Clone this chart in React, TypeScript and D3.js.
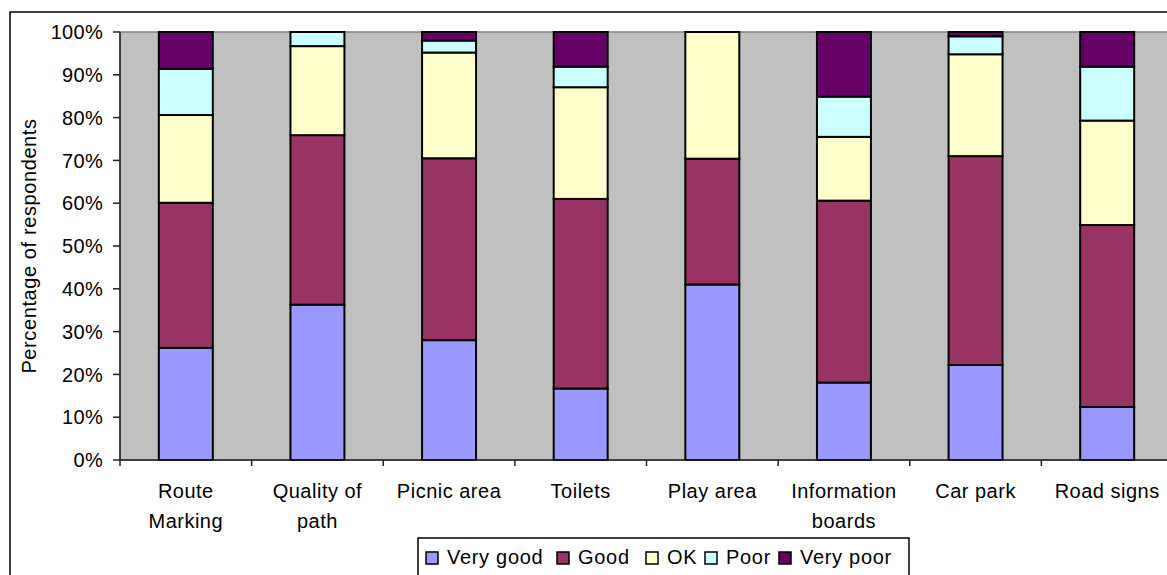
import React, { useEffect } from 'react';
import * as d3 from 'd3';

const categories = ['Route Marking', 'Quality of path', 'Picnic area', 'Toilets', 'Play area', 'Information boards', 'Car park', 'Road signs'];
const categoryLines = [['Route', 'Marking'], ['Quality of', 'path'], ['Picnic area'], ['Toilets'], ['Play area'], ['Information', 'boards'], ['Car park'], ['Road signs']];
const seriesNames = ['Very good', 'Good', 'OK', 'Poor', 'Very poor'];
const seriesColors = ['#9999FF', '#993366', '#FFFFCC', '#CCFFFF', '#660066'];

const veryGood = [26.2, 36.3, 28.0, 16.7, 41.0, 18.1, 22.2, 12.4];
const good = [33.9, 39.6, 42.5, 44.3, 29.4, 42.5, 48.8, 42.5];
const ok = [20.5, 20.8, 24.7, 26.1, 29.6, 14.9, 23.8, 24.4];
const poor = [10.8, 3.3, 2.8, 4.8, 0, 9.4, 4.2, 12.6];
const veryPoor = [8.6, 0, 2.0, 8.1, 0, 15.1, 1.0, 8.1];

const yTicks = [0, 10, 20, 30, 40, 50, 60, 70, 80, 90, 100];

const W = 1167;
const H = 575;
const plot = { left: 120, top: 32, right: 1173, bottom: 460 };
const FONT = 'Liberation Sans, Arial, sans-serif';

export default function App() {
  useEffect(() => {
    document.body.style.margin = '0';
  }, []);

  const rows = categories.map((c, i) => ({
    cat: c,
    'Very good': veryGood[i],
    Good: good[i],
    OK: ok[i],
    Poor: poor[i],
    'Very poor': veryPoor[i],
  }));
  const stacked = d3.stack<any>().keys(seriesNames)(rows);

  // inner padding 0.59, outer half of it so each bar sits centred in its slot
  const x = d3.scaleBand().domain(categories).range([plot.left, plot.right]).paddingInner(0.59).paddingOuter(0.295);
  const step = x.step();
  const y = d3.scaleLinear().domain([0, 100]).range([plot.bottom, plot.top]);

  const legendX = 418;
  const legendY = 538;
  const legendItems = [
    { name: seriesNames[0], sx: 426 },
    { name: seriesNames[1], sx: 557 },
    { name: seriesNames[2], sx: 646 },
    { name: seriesNames[3], sx: 705 },
    { name: seriesNames[4], sx: 779 },
  ];

  return (
    <svg width={W} height={H} style={{ display: 'block', fontFamily: FONT }}>
      <rect x={0} y={0} width={W} height={H} fill="#fff" />
      <rect x={10} y={12} width={W} height={H} fill="#fff" stroke="#000" strokeWidth={1.5} />
      <rect x={plot.left} y={plot.top} width={plot.right - plot.left} height={plot.bottom - plot.top} fill="#C0C0C0" stroke="#808080" strokeWidth={1.5} />

      {stacked.map((s, si) => (
        <g key={s.key} fill={seriesColors[si]}>
          {s.map((d, i) =>
            d[1] - d[0] > 0 ? (
              <rect
                key={i}
                x={x(categories[i])!}
                y={y(d[1])}
                width={x.bandwidth()}
                height={y(d[0]) - y(d[1])}
                stroke="#000"
                strokeWidth={2}
              />
            ) : null
          )}
        </g>
      ))}

      {/* axes */}
      <line x1={plot.left} x2={plot.left} y1={plot.top} y2={plot.bottom} stroke="#222" strokeWidth={1.5} />
      <line x1={plot.left} x2={plot.right} y1={plot.bottom} y2={plot.bottom} stroke="#222" strokeWidth={1.5} />
      {yTicks.map(t => (
        <g key={t}>
          <line x1={plot.left - 7} x2={plot.left} y1={y(t)} y2={y(t)} stroke="#222" strokeWidth={1.5} />
          <text x={103} y={y(t)} dy="0.36em" textAnchor="end" fontSize={20} fill="#000" letterSpacing={0.3}>{t}%</text>
        </g>
      ))}
      {d3.range(categories.length + 1).map(i => (
        <line key={i} x1={plot.left + i * step} x2={plot.left + i * step} y1={plot.bottom} y2={plot.bottom + 6} stroke="#222" strokeWidth={1.5} />
      ))}
      {categoryLines.map((lines, i) => (
        <text key={i} textAnchor="middle" fontSize={20} fill="#000" letterSpacing={0.5}>
          {lines.map((l, j) => (
            <tspan key={j} x={x(categories[i])! + x.bandwidth() / 2} y={498 + j * 30}>{l}</tspan>
          ))}
        </text>
      ))}
      <text transform={`translate(36,${(plot.top + plot.bottom) / 2}) rotate(-90)`} textAnchor="middle" fontSize={20} fill="#000" letterSpacing={0.6}>
        Percentage of respondents
      </text>

      {/* legend */}
      <rect x={legendX} y={legendY} width={491} height={50} fill="#fff" stroke="#000" strokeWidth={1.5} />
      {legendItems.map((it, i) => (
        <g key={it.name}>
          <rect x={it.sx} y={552} width={12} height={12} fill={seriesColors[i]} stroke="#000" strokeWidth={1.5} />
          <text x={it.sx + 21} y={557} dy="0.36em" fontSize={20} fill="#000" letterSpacing={0.7}>{it.name}</text>
        </g>
      ))}
    </svg>
  );
}
